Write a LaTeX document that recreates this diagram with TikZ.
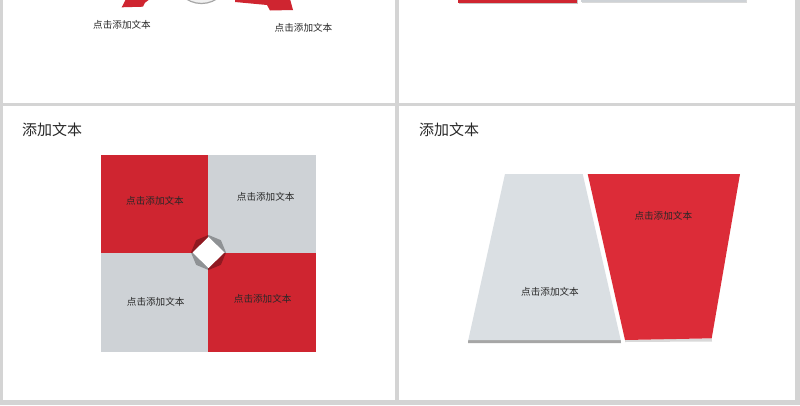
\documentclass[tikz,border=0pt]{standalone}
\usepackage{fontspec}
\newfontfamily\cjk{Noto Sans CJK SC}
\usetikzlibrary{shapes.geometric}
\definecolor{frame}{RGB}{212,212,212}
\definecolor{qred}{RGB}{207,37,48}
\definecolor{qgray}{RGB}{206,210,214}
\definecolor{tred}{RGB}{220,44,56}
\definecolor{tgray}{RGB}{218,223,227}
\definecolor{txt}{RGB}{40,40,40}
\tikzset{
  panel/.style={fill=white, draw=none},
  lbl/.style={font=\cjk\fontsize{9.6}{10}\selectfont, text=txt, inner sep=0pt},
  ttl/.style={font=\cjk\fontsize{15}{16}\selectfont, text=txt, inner sep=0pt, anchor=west},
}
\begin{document}
\begin{tikzpicture}[x=1pt,y=-1pt]
\useasboundingbox (0,0) rectangle (800,405);
\fill[frame] (0,0) rectangle (800,405);
% panels
\fill[panel] (3,0) rectangle (395,103);
\fill[panel] (399,0) rectangle (795,103);
\fill[panel] (3,106) rectangle (395,400);
\fill[panel] (399,106) rectangle (795,400);

% ---- top-left panel
\begin{scope}
\clip (3,0) rectangle (395,103);
\draw[gray!70, line width=1.2pt, fill=gray!12] (201.5,-24.3) circle (27.8);
\fill[qred] (121.7,7.3) -- (143,6.7) -- (145,2.7) -- (150,-1) -- (126,-1) -- cycle;
\fill[qred] (235,-1) -- (235,2) -- (267,5) -- (270,10.5) -- (293,10) -- (290,-1) -- cycle;
\end{scope}
\node[lbl] (tl1) at (122,25) {点击添加文本};
\node[lbl] (tl2) at (303.5,28.3) {点击添加文本};

% ---- top-right panel
\fill[gray!45] (459,0) rectangle (578,3.5);
\fill[qred] (458,0) rectangle (577,2.5);
\fill[gray!30] (582,0) rectangle (747,3);
\fill[qgray] (581,0) rectangle (746,2);

% ---- bottom-left panel
\node[ttl] (t1) at (22,130) {添加文本};
\fill[qred] (101,155) rectangle (208,253);
\fill[qgray] (208,155) rectangle (316,253);
\fill[qgray] (101,253) rectangle (208,352);
\fill[qred] (208,253) rectangle (316,352);
\node[regular polygon, regular polygon sides=8, minimum size=35pt, fill=black, fill opacity=0.3, draw=none, rotate=22.5] (oct) at (208.5,252.5) {};
\fill[white] (192.5,252.5) -- (208.5,237) -- (224.5,252.5) -- (208.5,268) -- cycle;
\node[lbl] (q1) at (155,200.7) {点击添加文本};
\node[lbl] (q2) at (265.7,197.3) {点击添加文本};
\node[lbl] (q3) at (155.7,302.3) {点击添加文本};
\node[lbl] (q4) at (262.7,299) {点击添加文本};

% ---- bottom-right panel
\node[ttl] (t2) at (419,130) {添加文本};
\fill[gray!70] (468.3,340) -- (620.7,340) -- (621,343) -- (468,343) -- cycle;
\fill[tgray] (505,174) -- (582.7,174) -- (620.7,340) -- (468.3,340) -- cycle;
\fill[gray!30] (625,340) -- (711.7,338.3) -- (712,341.5) -- (625,342) -- cycle;
\fill[tred] (587.7,174) -- (740,174) -- (711.7,338.3) -- (625,340) -- cycle;
\node[lbl] (r1) at (550,292.3) {点击添加文本};
\node[lbl] (r2) at (663.3,215.5) {点击添加文本};
\end{tikzpicture}
\end{document}
